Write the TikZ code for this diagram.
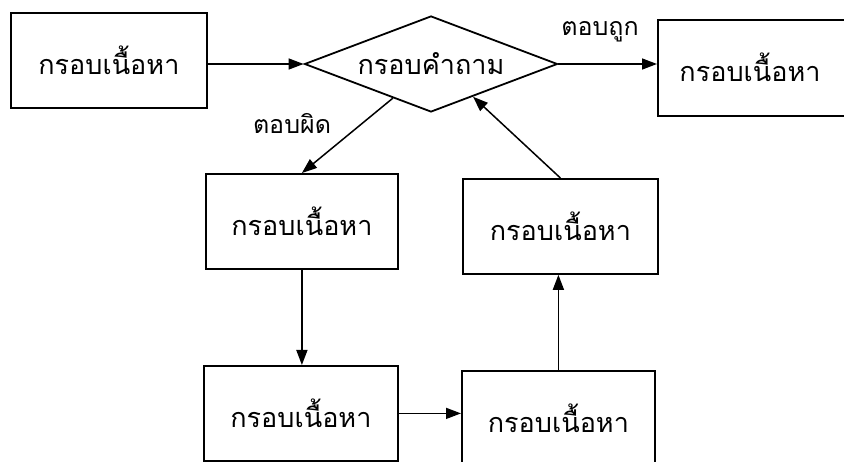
\documentclass[tikz,border=0pt]{standalone}
\usepackage{fontspec}
\newfontfamily\thaifont[Script=Thai]{Loma}
\usetikzlibrary{shapes.geometric,arrows.meta,calc}
\begin{document}
\begin{tikzpicture}[x=1pt,y=-1pt,
  every node/.style={font=\thaifont\fontsize{27}{30}\selectfont},
  box/.style={draw,line width=1.8pt,rectangle,inner sep=0pt,anchor=north west},
  dia/.style={draw,line width=1.8pt,diamond,aspect=2.64,inner sep=0pt,minimum width=253pt,minimum height=96pt},
  arr/.style={line width=1.5pt,-{Triangle[length=15pt,width=11pt]}},
  lbl/.style={inner sep=0pt,font=\thaifont\fontsize{25}{28}\selectfont}]
\useasboundingbox (0,0) rectangle (844,462);
\fill[white] (0,0) rectangle (844,462);
\node[box,minimum width=196pt,minimum height=95pt] (b1) at (10,12) {กรอบเนื้อหา};
\node[dia] (q) at (431,64) {กรอบคำถาม};
\node[box,minimum width=200pt,minimum height=96pt] (br) at (657,19) {};
\node[inner sep=0pt] (brt) at (750,67) {กรอบเนื้อหา};
\node[box,minimum width=192pt,minimum height=95pt] (ml) at (205,173) {กรอบเนื้อหา};
\node[box,minimum width=195pt,minimum height=95pt] (mr) at (462,178) {กรอบเนื้อหา};
\node[box,minimum width=194pt,minimum height=95pt] (bl) at (203,365) {กรอบเนื้อหา};
\node[box,minimum width=193pt,minimum height=95pt] (bb) at (461,370) {กรอบเนื้อหา};
\coordinate (qbr) at ($(q.south)!0.33!(q.east)$);
\coordinate (qbl) at ($(q.west)!0.7!(q.south)$);
\draw[arr] (b1.east |- q.west) -- (q.west);
\draw[arr] (q.east) -- (q.east -| br.west);
\draw[arr] (qbl) -- (ml.north);
\draw[arr] (ml.south) -- (bl.north -| ml.south);
\draw[arr] (bl.east) -- (bl.east -| bb.west);
\draw[arr] (bb.north) -- (mr.south -| bb.north);
\draw[arr] (mr.north) -- (qbr);
\node[lbl] (l1) at (600,32) {ตอบถูก};
\node[lbl] (l2) at (292,123) {ตอบผิด};
\end{tikzpicture}
\end{document}
